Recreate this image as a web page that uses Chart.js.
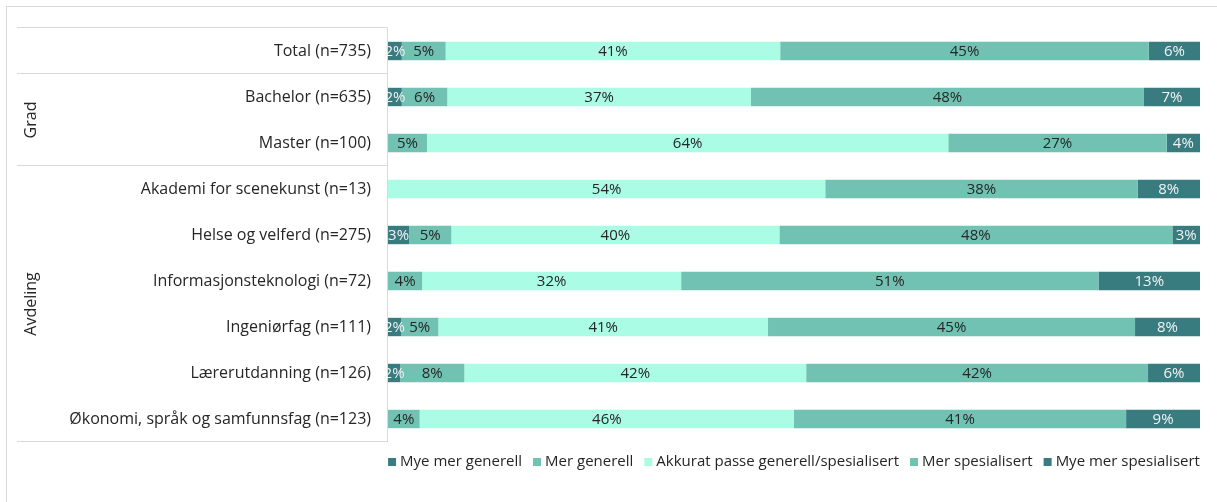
<!DOCTYPE html>
<html>
<head>
<meta charset="utf-8">
<script src="https://cdn.jsdelivr.net/npm/chart.js@4/dist/chart.umd.min.js"></script>
<style>
  html, body { margin: 0; padding: 0; background: #fff; }
  #wrap { width: 1217px; height: 502px; position: relative; }
</style>
</head>
<body>
<div id="wrap"><canvas id="chart"></canvas></div>
<script>
// kategorier og grupper
const categories = [
  'Total (n=735)',
  'Bachelor (n=635)',
  'Master (n=100)',
  'Akademi for scenekunst (n=13)',
  'Helse og velferd (n=275)',
  'Informasjonsteknologi (n=72)',
  'Ingeniørfag (n=111)',
  'Lærerutdanning (n=126)',
  'Økonomi, språk og samfunnsfag (n=123)'
];
const groups = [
  { label: '', from: 0, to: 0 },
  { label: 'Grad', from: 1, to: 2 },
  { label: 'Avdeling', from: 3, to: 8 }
];

const seriesNames = [
  'Mye mer generell',
  'Mer generell',
  'Akkurat passe generell/spesialisert',
  'Mer spesialisert',
  'Mye mer spesialisert'
];

// andel i prosent
const myeMerGenerell    = [1.7, 1.7, 0,    0,     2.6, 0,    1.6, 1.5, 0];
const merGenerell       = [5.4, 5.6, 4.8,  0,     5.2, 4.2,  4.6, 7.9, 3.9];
const akkuratPasse      = [41.2, 37.4, 64.2, 53.85, 40.4, 31.9, 40.6, 42.1, 46.1];
const merSpesialisert   = [45.4, 48.4, 26.9, 38.46, 48.4, 51.4, 45.2, 42.1, 40.9];
const myeMerSpesialisert= [6.3, 6.9, 4.1,  7.69,  3.4, 12.5, 8.0, 6.4, 9.1];

const colors = ['#387c80', '#71c2b3', '#aafce4', '#71c2b3', '#387c80'];
const labelColors = ['#f2f2f2', '#262626', '#262626', '#262626', '#f2f2f2'];
const gridColor = '#d9d9d9';
const font = '"Open Sans", sans-serif';

const allSeries = [myeMerGenerell, merGenerell, akkuratPasse, merSpesialisert, myeMerSpesialisert];

// tegner tabellen til venstre, verdietiketter og forklaring
const decorations = {
  id: 'decorations',
  beforeDraw(chart) {
    const ctx = chart.ctx;
    ctx.save();
    ctx.fillStyle = '#fff';
    ctx.fillRect(0, 0, chart.width, chart.height);
    ctx.strokeStyle = gridColor;
    ctx.lineWidth = 1;
    ctx.strokeRect(6.5, 6.5, chart.width + 20, chart.height + 20);
    ctx.restore();
  },
  afterDatasetsDraw(chart) {
    const ctx = chart.ctx;
    const area = chart.chartArea;
    const y = chart.scales.y;
    const step = (area.bottom - area.top) / categories.length;
    const tableLeft = 17;
    const xLine = area.left - 0.5;

    ctx.save();
    ctx.strokeStyle = gridColor;
    ctx.lineWidth = 1;
    ctx.beginPath();
    ctx.moveTo(xLine, area.top);
    ctx.lineTo(xLine, area.bottom);
    [0, 1, 3, 9].forEach(i => {
      const yy = Math.round(area.top + i * step) - 0.5;
      ctx.moveTo(tableLeft, yy);
      ctx.lineTo(xLine, yy);
    });
    ctx.stroke();

    // kategoritekst
    ctx.fillStyle = '#262626';
    ctx.font = '16px ' + font;
    ctx.textAlign = 'right';
    ctx.textBaseline = 'middle';
    categories.forEach((c, i) => {
      ctx.fillText(c, area.left - 17, y.getPixelForValue(i));
    });

    // gruppetekst, rotert
    groups.forEach(g => {
      if (!g.label) return;
      const yc = (y.getPixelForValue(g.from) + y.getPixelForValue(g.to)) / 2;
      ctx.save();
      ctx.translate(31, yc);
      ctx.rotate(-Math.PI / 2);
      ctx.textAlign = 'center';
      ctx.fillText(g.label, 0, 0);
      ctx.restore();
    });

    // verdietiketter
    ctx.font = '15px ' + font;
    ctx.textAlign = 'center';
    chart.data.datasets.forEach((ds, di) => {
      const meta = chart.getDatasetMeta(di);
      meta.data.forEach((bar, i) => {
        const v = ds.data[i];
        if (!v) return;
        const cx = (bar.base + bar.x) / 2;
        ctx.fillStyle = labelColors[di];
        ctx.fillText(Math.round(v) + '%', cx, bar.y + 1);
      });
    });

    // forklaring
    ctx.font = '15px ' + font;
    ctx.textAlign = 'left';
    const boxSize = 8;
    const gap = 11;
    const widths = seriesNames.map(n => boxSize + 4 + ctx.measureText(n).width);
    const total = widths.reduce((a, b) => a + b, 0) + gap * (seriesNames.length - 1);
    let lx = (area.left + area.right) / 2 - total / 2;
    const ly = 462;
    seriesNames.forEach((n, i) => {
      ctx.fillStyle = colors[i];
      ctx.fillRect(lx, ly - boxSize / 2, boxSize, boxSize);
      ctx.fillStyle = '#262626';
      ctx.fillText(n, lx + boxSize + 4, ly);
      lx += widths[i] + gap;
    });
    ctx.restore();
  }
};

new Chart(document.getElementById('chart'), {
  type: 'bar',
  data: {
    labels: categories,
    datasets: allSeries.map((data, i) => ({
      label: seriesNames[i],
      data: data,
      backgroundColor: colors[i],
      borderWidth: 0,
      barPercentage: 0.4,
      categoryPercentage: 1
    }))
  },
  options: {
    indexAxis: 'y',
    responsive: true,
    maintainAspectRatio: false,
    animation: false,
    layout: { padding: { left: 388, right: 17, top: 28, bottom: 60 } },
    plugins: {
      legend: { display: false },
      tooltip: { enabled: false }
    },
    scales: {
      x: { stacked: true, min: 0, max: 100, display: false },
      y: { stacked: true, display: false }
    }
  },
  plugins: [decorations]
});
</script>
</body>
</html>
